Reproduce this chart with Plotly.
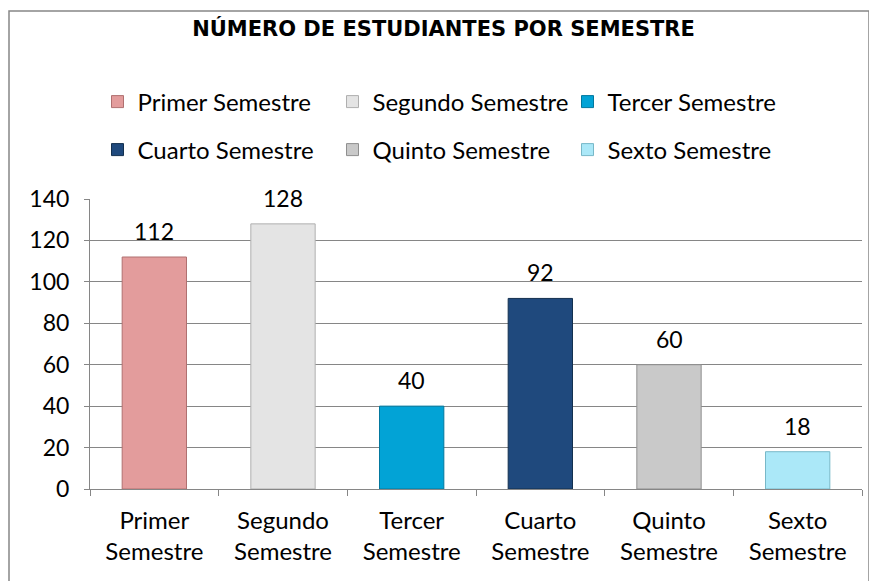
import plotly.graph_objects as go

categories = ["Primer Semestre", "Segundo Semestre", "Tercer Semestre",
              "Cuarto Semestre", "Quinto Semestre", "Sexto Semestre"]
tick_labels = ["Primer<br>Semestre", "Segundo<br>Semestre", "Tercer<br>Semestre",
               "Cuarto<br>Semestre", "Quinto<br>Semestre", "Sexto<br>Semestre"]
values = [112, 128, 40, 92, 60, 18]
colors = ["#E39C9C", "#E4E4E4", "#02A3D6", "#1F497D", "#C9C9C9", "#ABE8F8"]
edges = ["#B07070", "#AFAFAF", "#02789E", "#13304F", "#8F8F8F", "#78B8C8"]

FONT = "Lato"
# page has an 8px body margin; figure is sized/positioned to compensate
W, H = 869, 573
L, R, T, B = 82, 15, 191, 92
PW, PH = W - L - R, H - T - B

fig = go.Figure()
for i, (cat, lab, v) in enumerate(zip(categories, tick_labels, values)):
    fig.add_trace(go.Bar(
        x=[lab], y=[v], name=cat,
        marker=dict(color=colors[i], line=dict(color=edges[i], width=1)),
        width=0.5,
        legend="legend" if i < 3 else "legend2",
    ))

annotations = [dict(x=lab, y=v, xref="x", yref="y", text=str(v), showarrow=False,
                    yanchor="bottom", yshift=10,
                    font=dict(size=23, color="#000000", family=FONT))
               for lab, v in zip(tick_labels, values)]

leg_common = dict(orientation="h", xanchor="left", yanchor="middle",
                  font=dict(size=24, color="#000000", family=FONT),
                  entrywidth=190, entrywidthmode="pixels",
                  bgcolor="rgba(0,0,0,0)", itemwidth=30)

fig.update_layout(
    width=W, height=H,
    margin=dict(l=L, r=R, t=T, b=B),
    paper_bgcolor="#FFFFFF", plot_bgcolor="#FFFFFF",
    barmode="overlay",
    showlegend=True,
    title=dict(text="<b>NÚMERO DE ESTUDIANTES POR SEMESTRE</b>",
               x=435.5 / W, xanchor="center", y=1 - 20.5 / H, yanchor="middle",
               font=dict(size=21, color="#000000", family="DejaVu Sans")),
    legend=dict(x=(89.5 - L) / PW, y=(481 - 94) / PH, **leg_common),
    legend2=dict(x=(89.5 - L) / PW, y=(481 - 142) / PH, **leg_common),
    xaxis=dict(type="category", showgrid=False, showline=True, linecolor="#868686",
               linewidth=1, ticks="outside", ticklen=6, tickcolor="#868686",
               tickson="boundaries", ticklabelstandoff=10,
               tickfont=dict(size=24, color="#000000", family=FONT)),
    yaxis=dict(range=[0, 140], dtick=20, showgrid=True, gridcolor="#868686",
               gridwidth=1, showline=True, linecolor="#868686", linewidth=1,
               ticks="outside", ticklen=5, tickcolor="#868686", zeroline=False,
               ticklabelstandoff=10,
               tickfont=dict(size=23, color="#000000", family=FONT)),
    annotations=annotations,
    shapes=[dict(type="rect", xref="paper", yref="paper",
                 x0=(1 - L) / PW, x1=(861 - L) / PW,
                 y0=(481 - 620) / PH, y1=(481 - 3) / PH,
                 line=dict(color="#868686", width=1.5), fillcolor="rgba(0,0,0,0)",
                 layer="below")],
)

fig.write_html("out.html")
